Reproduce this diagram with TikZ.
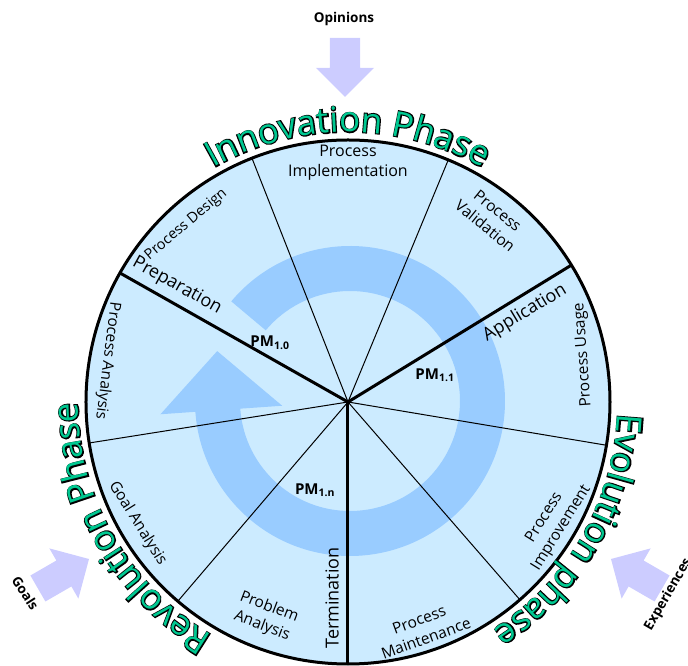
\documentclass[tikz,border=0pt]{standalone}
\usepackage{fontspec}
\setmainfont{Open Sans}
\newfontfamily\outlinefam[FakeBold=6]{Open Sans}
\usetikzlibrary{decorations.text}
\definecolor{fillblue}{RGB}{204,235,255}
\definecolor{ringblue}{RGB}{153,204,255}
\definecolor{arrowlav}{RGB}{204,204,255}
\definecolor{phasegreen}{RGB}{0,200,145}
\newcommand\outlinefont{\outlinefam\fontsize{35}{40}\selectfont\color{black}}
\newcommand\phasefont{\fontsize{35}{40}\selectfont\color{phasegreen}}
\newcommand\phasetext[2]{%
  \path[decorate, decoration={text along path, text={|\outlinefont|#2}, text align=center}]
      ({#1+60}:270) arc[start angle={#1+60}, end angle={#1-60}, radius=270];
  \path[decorate, decoration={text along path, text={|\phasefont|#2}, text align=center}]
      ({#1+60}:270) arc[start angle={#1+60}, end angle={#1-60}, radius=270];
}
\tikzset{
  seclabel/.style={font=\fontsize{15.5}{20}\selectfont, align=center, inner sep=0pt},
  phaselabel/.style={font=\fontsize{18}{22}\selectfont, inner sep=0pt},
  pmlabel/.style={font=\bfseries\fontsize{15}{18}\selectfont, inner sep=0pt},
  inlabel/.style={font=\bfseries\fontsize{13.5}{16}\selectfont, inner sep=0pt},
  thinspoke/.style={line width=1pt},
  thickspoke/.style={line width=3pt},
  bigarrow/.style={fill=arrowlav}
}
\newcommand\inarrow[2]{%
  \fill[bigarrow, shift={#1}, rotate=#2] (0,0) -- (-29,29) -- (-29,15) -- (-59,15) -- (-59,-15) -- (-29,-15) -- (-29,-29) -- cycle;
}
\begin{document}
\begin{tikzpicture}[x=1pt,y=1pt]
\useasboundingbox (-348,-264) rectangle (340,402);
\coordinate (O) at (0,0);
% disc
\fill[fillblue] (O) circle (262);
% circular arrow
\fill[ringblue, shift={(2,1)}] (140:155) arc[start angle=140,end angle=-176,radius=155]
  -- (-176:190) -- (-132.8,49.9) -- (-176:68) -- (-176:110)
  arc[start angle=-176,end angle=140,radius=110] -- cycle;
% spokes
\foreach \a in {111.5,67.5,-9.5,-49,-130.5,-171}{
  \draw[thinspoke] (O) -- (\a:262);
}
\foreach \a in {31.5,-90,150.5}{
  \draw[thickspoke] (O) -- (\a:262);
}
\draw[line width=3pt] (O) circle (262);
% sector labels
\node[seclabel, font=\fontsize{16}{20}\selectfont] (impl) at (90:239) {Process\\Implementation};
\node[seclabel, font=\fontsize{14.5}{18}\selectfont, rotate=40] (design) at (132.4:240) {Process Design};
\node[seclabel, rotate=-39] (valid) at (52:233) {Process\\Validation};
\node[seclabel, rotate=94] (usage) at (11.3:240) {Process Usage};
\node[seclabel, rotate=58] (improve) at (-30.5:238) {Process\\Improvement};
\node[seclabel, rotate=20] (maint) at (-71.8:239) {Process\\Maintenance};
\node[seclabel, rotate=-21] (problem) at (-111:230) {Problem\\Analysis};
\node[seclabel, rotate=-58] (goal) at (-150:243) {Goal Analysis};
\node[seclabel, rotate=-97] (panal) at (170.3:244) {Process Analysis};
% phase labels
\node[phaselabel, rotate=-29] (prep) at (-171,116) {Preparation};
\node[phaselabel, rotate=31] (appl) at (177,89) {Application};
\node[phaselabel, rotate=90] (term) at (-16,-196) {Termination};
% PM labels
\node[pmlabel] (pm10) at (-78,59) {PM\textsubscript{1.0}};
\node[pmlabel] (pm11) at (87,27) {PM\textsubscript{1.1}};
\node[pmlabel] (pm1n) at (-33,-88) {PM\textsubscript{1.n}};
% inputs
\inarrow{(-3,305)}{-90}
\inarrow{(-259,-157)}{30}
\inarrow{(263,-157)}{150}
\node[inlabel] (opinions) at (-4,383) {Opinions};
\node[inlabel, rotate=-57] (goals) at (-322.5,-191) {Goals};
\node[inlabel, rotate=60, anchor=west] (exper) at (300,-227.5) {Experiences};
% phase names
\phasetext{90}{Innovation Phase}
\phasetext{-30}{Evolution phase}
\phasetext{210}{Revolution Phase}
\end{tikzpicture}
\end{document}
